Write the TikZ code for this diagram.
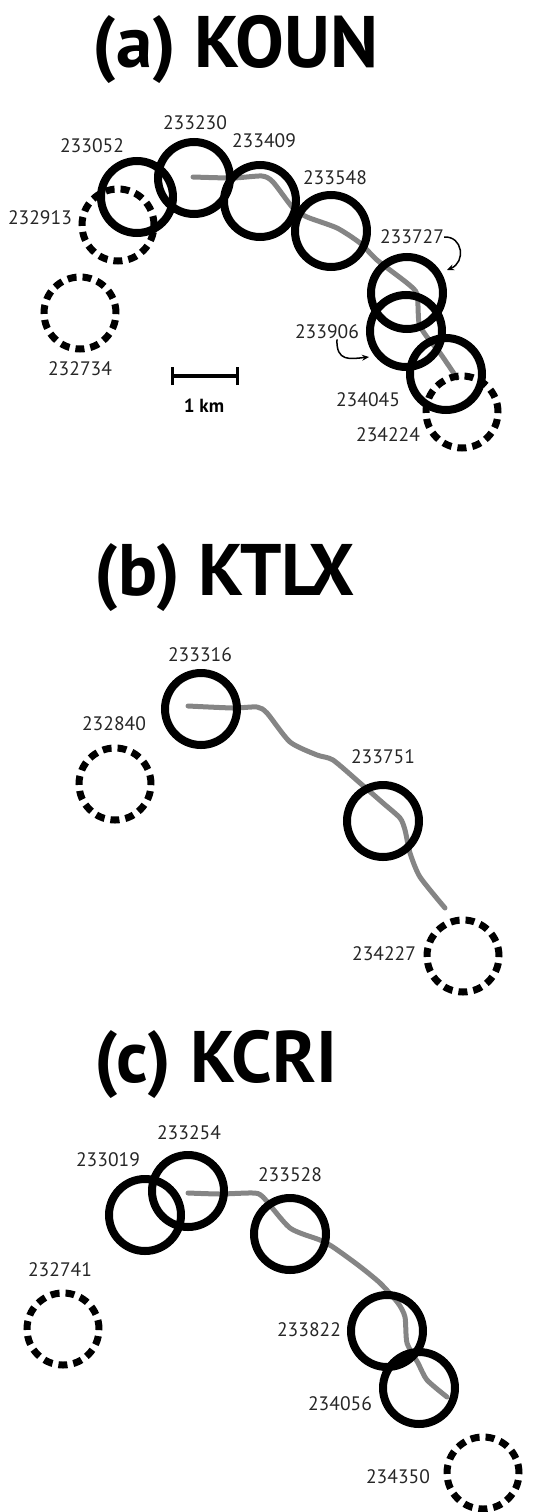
\documentclass[tikz,border=0pt]{standalone}
\usepackage{fontspec}
\setmainfont{PT Sans}
\usetikzlibrary{arrows.meta}
\begin{document}
\begin{tikzpicture}[x=1pt,y=-1pt,
  solidc/.style={circle,draw=black,line width=8pt,minimum size=72pt,inner sep=0pt},
  dashc/.style={circle,draw=black,line width=7pt,minimum size=72pt,inner sep=0pt,dash pattern=on 9pt off 6pt},
  lbl/.style={font=\fontsize{19.5}{19.5}\selectfont,text=black!85,inner sep=0pt},
  ttl/.style={font=\fontsize{73}{73}\selectfont\bfseries,anchor=base west,inner sep=0pt},
  track/.style={draw=black!48,line width=5pt,line cap=round,line join=round},
  callout/.style={line width=1.5pt,-{Stealth[length=7pt,width=6pt]}}]
\useasboundingbox (0,0) rectangle (538,1512);

% ---------------- (a) KOUN ----------------
\node[ttl] (ta) at (92,67) {(a) KOUN};
\draw[track] plot[smooth,tension=0.4] coordinates {(193,177) (233,178) (262,176) (273,182) (293,208) (307,217) (337,228) (360,243) (377,260) (407,283) (417,294) (419,323) (427,337) (440,353) (457,378)};
\node[dashc] (a232734) at (80,313) {};
\node[dashc] (a232913) at (118,225) {};
\node[dashc] (a234224) at (462,412) {};
\node[solidc] (a233052) at (137,197) {};
\node[solidc] (a233230) at (194,178) {};
\node[solidc] (a233409) at (260,201) {};
\node[solidc] (a233548) at (331,231) {};
\node[solidc] (a233727) at (407,293) {};
\node[solidc] (a233906) at (406,331) {};
\node[solidc] (a234045) at (446,374) {};
\node[lbl] (la233230) at (195,123) {233230};
\node[lbl] (la233052) at (92,146) {233052};
\node[lbl] (la233409) at (264,141) {233409};
\node[lbl] (la233548) at (335,178) {233548};
\node[lbl] (la232913) at (40,218) {232913};
\node[lbl] (la232734) at (80,369) {232734};
\node[lbl] (la233727) at (412,237) {233727};
\node[lbl] (la233906) at (327,332) {233906};
\node[lbl] (la234045) at (368,400) {234045};
\node[lbl] (la234224) at (388,435) {234224};
\coordinate (ea233727) at (447,270);
\coordinate (ea233906) at (369,357);
\draw[callout] (la233727.east) .. controls (463,236) and (466,262) .. (ea233727);
\draw[callout] ([xshift=10pt]la233906.south) .. controls (336,362) and (350,359) .. (ea233906);
% scale bar
\coordinate (sbl) at (172,376);
\coordinate (sbr) at (237,376);
\draw[line width=4.5pt] (sbl) -- (sbr);
\draw[line width=3pt] ([yshift=-9pt]sbl) -- ([yshift=9pt]sbl);
\draw[line width=3pt] ([yshift=-9pt]sbr) -- ([yshift=9pt]sbr);
\node[lbl,font=\fontsize{19}{19}\selectfont\bfseries,text=black] (km) at (204,406) {1 km};

% ---------------- (b) KTLX ----------------
\node[ttl] (tb) at (94,595) {(b) KTLX};
\draw[track] plot[smooth,tension=0.4] coordinates {(188,706) (233,708) (257,707) (267,713) (290,742) (317,755) (333,760) (360,783) (383,803) (400,818) (405,830) (410,853) (420,877) (445,908)};
\node[dashc] (b232840) at (115,784) {};
\node[dashc] (b234227) at (463,956) {};
\node[solidc] (b233316) at (201,709) {};
\node[solidc] (b233751) at (383,821) {};
\node[lbl] (lb233316) at (200,655) {233316};
\node[lbl] (lb232840) at (114,724) {232840};
\node[lbl] (lb233751) at (383,757) {233751};
\node[lbl] (lb234227) at (384,954) {234227};

% ---------------- (c) KCRI ----------------
\node[ttl] (tc) at (94,1082) {(c) KCRI};
\draw[track] plot[smooth,tension=0.4] coordinates {(188,1193) (220,1194) (253,1193) (263,1197) (290,1228) (320,1240) (333,1247) (358,1265) (380,1283) (398,1303) (405,1317) (407,1343) (418,1363) (427,1380) (447,1397)};
\node[dashc] (c232741) at (63,1329) {};
\node[dashc] (c234350) at (483,1473) {};
\node[solidc] (c233019) at (145,1215) {};
\node[solidc] (c233254) at (188,1191) {};
\node[solidc] (c233528) at (290,1234) {};
\node[solidc] (c233822) at (387,1331) {};
\node[solidc] (c234056) at (419,1388) {};
\node[lbl] (lc233254) at (189,1133) {233254};
\node[lbl] (lc233019) at (108,1160) {233019};
\node[lbl] (lc233528) at (290,1175) {233528};
\node[lbl] (lc232741) at (60,1270) {232741};
\node[lbl] (lc233822) at (309,1330) {233822};
\node[lbl] (lc234056) at (340,1404) {234056};
\node[lbl] (lc234350) at (398,1477) {234350};
\end{tikzpicture}
\end{document}
